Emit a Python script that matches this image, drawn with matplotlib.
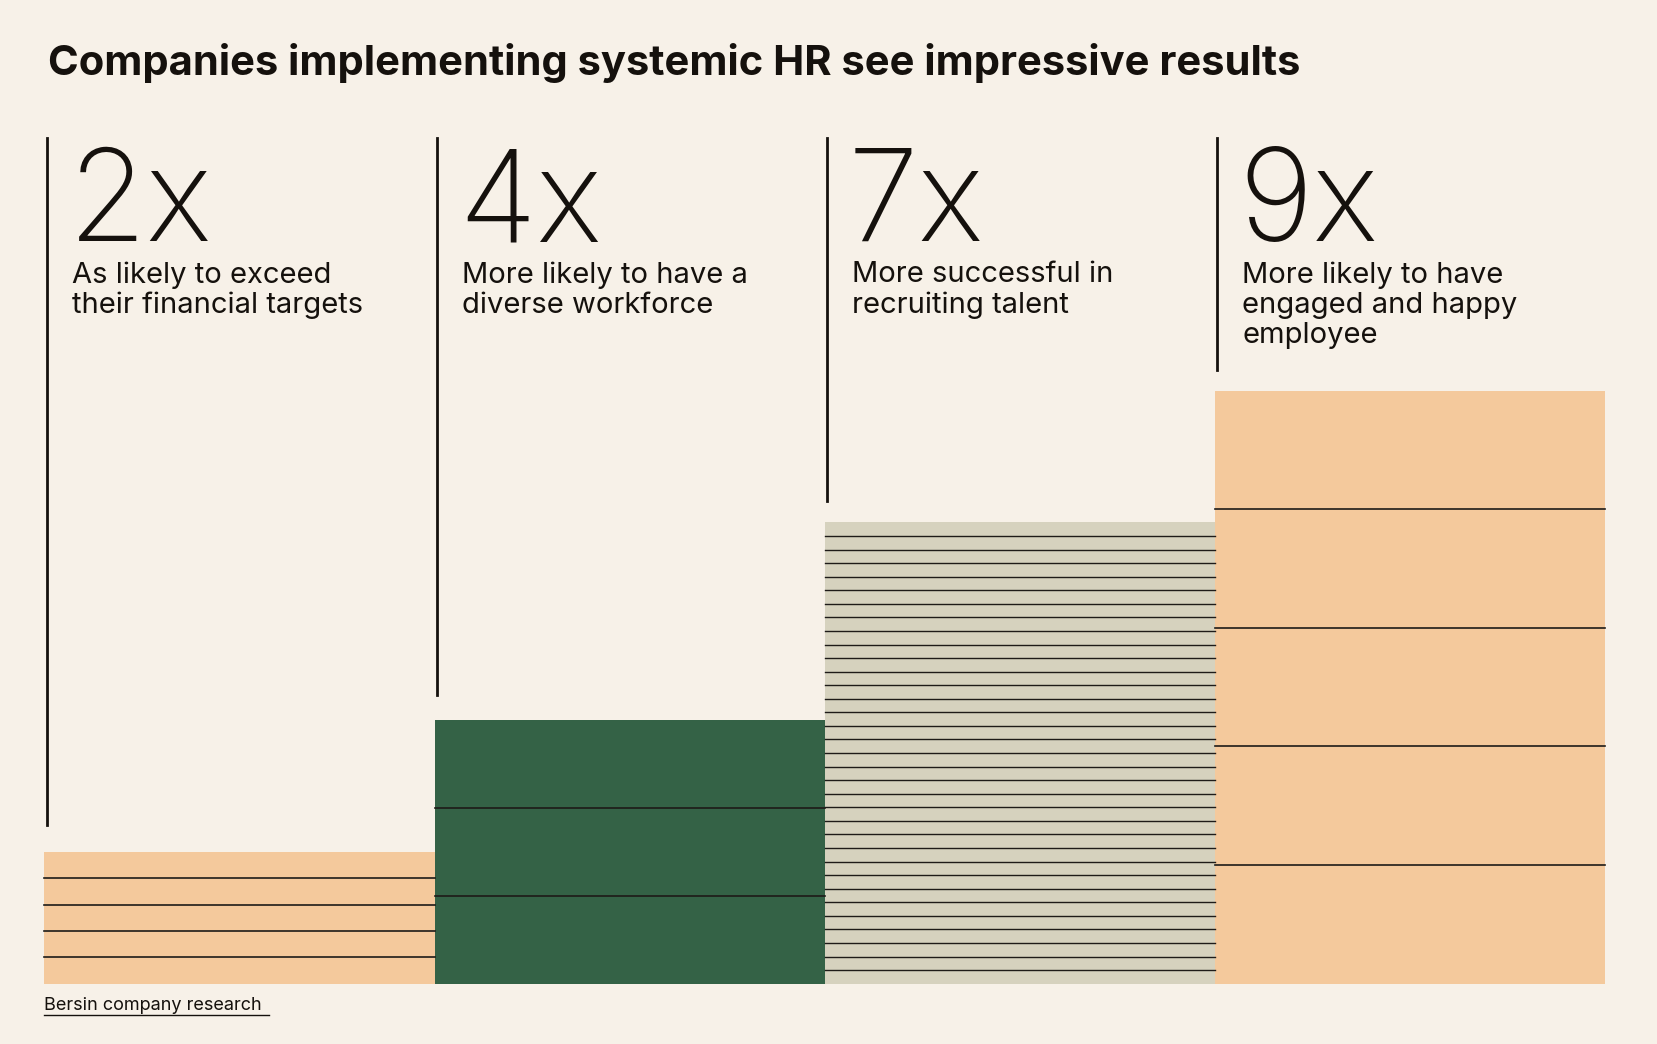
import matplotlib.pyplot as plt
from matplotlib.patches import Rectangle

# data
multipliers = [2, 4, 7, 9]
labels = ["2x", "4x", "7x", "9x"]
descriptions = [
    "As likely to exceed\ntheir financial targets",
    "More likely to have a\ndiverse workforce",
    "More successful in\nrecruiting talent",
    "More likely to have\nengaged and happy\nemployee",
]
stripe_counts = [5, 3, 34, 5]
bar_colors = ["#F4C99C", "#346246", "#D6D2BE", "#F4C99C"]
line_ends = [780, 657, 474, 350]

bg = "#F7F1E8"
W, H = 1568, 987
base = 930
unit = 62.3
bar_w = 369
x0 = 42

fig = plt.figure(figsize=(16.58, 10.44), dpi=100, facecolor=bg)
ax = fig.add_axes([0, 0, 1, 1])
ax.set_xlim(0, W)
ax.set_ylim(H, 0)
ax.axis("off")
ax.set_facecolor(bg)

ax.text(45, 60, "Companies implementing systemic HR see impressive results",
        fontsize=30, fontweight="bold", family="Inter", color="#15110D", va="center")

for i, v in enumerate(multipliers):
    left = x0 + i * bar_w
    top = base - v * unit
    ax.add_patch(Rectangle((left, top), bar_w, v * unit, color=bar_colors[i], lw=0))
    n = stripe_counts[i]
    step = v * unit / n
    for k in range(1, n):
        y = top + k * step
        ax.plot([left, left + bar_w], [y, y], color="#1E1B18", lw=1.2 if n < 10 else 1.0)
    lx = left + 2
    ax.plot([lx, lx], [130, line_ends[i]], color="#15110D", lw=2)
    ax.text(lx + 20, 228, labels[i], fontsize=92, fontweight="light",
            family="Inter", color="#15110D", va="baseline")
    ax.text(lx + 24, 247, descriptions[i], fontsize=21, family="Inter",
            color="#15110D", va="top", linespacing=1.15)

ax.text(42, 951, "Bersin company research", fontsize=13, family="Inter",
        color="#15110D", va="center")
ax.plot([42, 254], [960, 960], color="#15110D", lw=1)

fig.savefig("out.png", dpi=100, facecolor=bg)
